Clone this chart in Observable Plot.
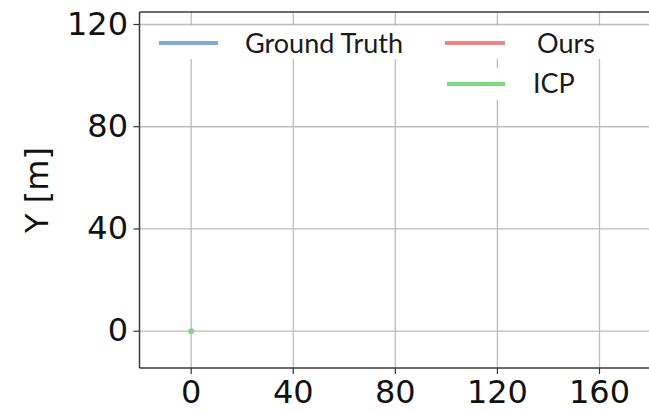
<!DOCTYPE html>
<html>
<head>
<meta charset="utf-8">
<script src="https://cdn.jsdelivr.net/npm/d3@7"></script>
<script src="https://cdn.jsdelivr.net/npm/@observablehq/plot@0.6"></script>
<style>
  html, body { margin: 0; padding: 0; background: #fff; }
  #chart { width: 649px; height: 411px; overflow: hidden; }
</style>
</head>
<body>
<div id="chart"></div>
<script>
// ---- data ----
const xTicks = [0, 40, 80, 120, 160];
const yTicks = [0, 40, 80, 120];
const icpX = [0];
const icpY = [0];
const seriesNames = ["Ground Truth", "Ours", "ICP"];
const seriesColors = ["#7eaad3", "#ec8585", "#80d880"];
const yLabel = "Y [m]";

const plot = Plot.plot({
  width: 649,
  height: 411,
  marginLeft: 139.5,
  marginRight: 0,
  marginTop: 12,
  marginBottom: 43,
  x: {domain: [-20.06, 179.6]},
  y: {domain: [-14.6, 124.7]},
  style: {fontFamily: "DejaVu Sans", fontSize: "32px", color: "#111", background: "#fff"},
  marks: [
    Plot.gridX(xTicks, {stroke: "#bdbdbd", strokeOpacity: 1, strokeWidth: 1.3}),
    Plot.gridY(yTicks, {stroke: "#bdbdbd", strokeOpacity: 1, strokeWidth: 1.3}),
    Plot.axisX(xTicks, {tickSize: 6, tickPadding: 6, label: null, fontSize: 32, stroke: "#333", strokeWidth: 1.2}),
    Plot.axisY(yTicks, {tickSize: 6, tickPadding: 6, label: null, fontSize: 32, stroke: "#333", strokeWidth: 1.2}),
    Plot.dot({length: icpX.length}, {x: (d, i) => icpX[i], y: (d, i) => icpY[i], r: 3, fill: seriesColors[2], stroke: "none"})
  ]
});

document.getElementById("chart").appendChild(plot);

const svg = d3.select(plot);
const xs = plot.scale("x"), ys = plot.scale("y");
const [x0, x1] = xs.range;
const [yb, yt] = ys.range;

// frame: left, top, bottom (right side is cropped)
const fr = svg.append("g").attr("stroke", "#3a3a3a").attr("stroke-width", 1.5).attr("fill", "none");
fr.append("line").attr("x1", x0).attr("x2", x0).attr("y1", yt).attr("y2", yb);
fr.append("line").attr("x1", x0).attr("x2", x1).attr("y1", yt).attr("y2", yt);
fr.append("line").attr("x1", x0).attr("x2", x1).attr("y1", yb).attr("y2", yb);

// y label
svg.append("text")
  .attr("transform", "translate(37,190) rotate(-90)")
  .attr("text-anchor", "middle")
  .attr("dominant-baseline", "central")
  .attr("font-family", "DejaVu Sans")
  .attr("font-size", 32)
  .attr("fill", "#111")
  .text(yLabel);

// legend (white patches behind entries, as in the reference)
const lg = svg.append("g").attr("text-anchor", "start");
lg.append("rect").attr("x", 150).attr("y", 26).attr("width", 470).attr("height", 33).attr("fill", "#fff");
lg.append("rect").attr("x", 430).attr("y", 68).attr("width", 145).attr("height", 32).attr("fill", "#fff");
const entries = [
  {lx1: 159, lx2: 218, ly: 43, tx: 245, ty: 53},
  {lx1: 445, lx2: 505, ly: 43, tx: 537, ty: 53},
  {lx1: 447, lx2: 505, ly: 84, tx: 533, ty: 93}
];
entries.forEach((e, i) => {
  lg.append("line").attr("x1", e.lx1).attr("x2", e.lx2).attr("y1", e.ly).attr("y2", e.ly)
    .attr("stroke", seriesColors[i]).attr("stroke-width", 4);
  lg.append("text").attr("x", e.tx).attr("y", e.ty)
    .attr("text-anchor", "start")
    .attr("font-family", "Lato").attr("font-size", 27).attr("fill", "#1a1a1a")
    .text(seriesNames[i]);
});
</script>
</body>
</html>
